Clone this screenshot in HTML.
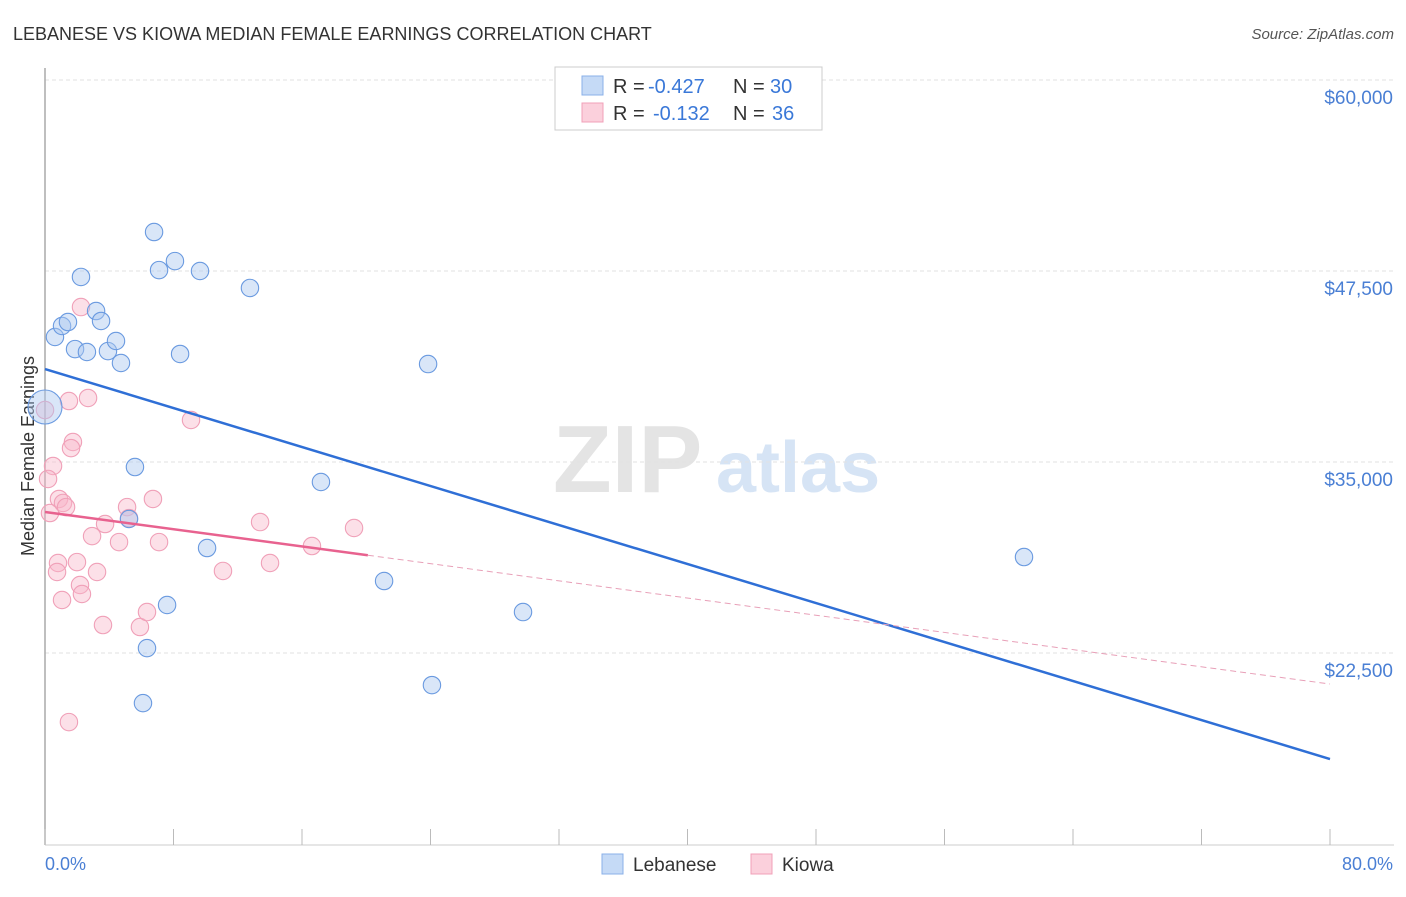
<!DOCTYPE html>
<html><head><meta charset="utf-8"><style>
body{margin:0;background:#fff;font-family:"Liberation Sans",sans-serif}
svg text{font-family:"Liberation Sans",sans-serif}
</style></head><body>
<svg id="c" width="1406" height="892" xmlns="http://www.w3.org/2000/svg">
<text x="13" y="40" font-size="18" fill="#333">LEBANESE VS KIOWA MEDIAN FEMALE EARNINGS CORRELATION CHART</text>
<text x="1394" y="39" font-size="15" fill="#555" font-style="italic" text-anchor="end">Source: ZipAtlas.com</text>
<g>
<text x="553" y="492" font-size="96" font-family="Liberation Serif" fill="#e4e4e4" font-weight="bold">ZIP</text>
<text x="716" y="492" font-size="72" fill="#d6e4f5" font-weight="bold">atlas</text>
</g>
<g id="grid"></g>
<line x1="45" y1="68" x2="45" y2="845" stroke="#aaa" stroke-width="1.5"/>
<line x1="45" y1="845" x2="1394" y2="845" stroke="#ccc"/>
<g id="xt"></g>
<text x="34" y="456" font-size="18" fill="#333" text-anchor="middle" transform="rotate(-90 34 456)">Median Female Earnings</text>
<text x="45" y="870" font-size="18" fill="#4a7fd4">0.0%</text>
<text x="1393" y="870" font-size="18" fill="#4a7fd4" text-anchor="end">80.0%</text>
<g id="pts"></g>
<g id="lines"></g>
<g>
<rect x="555" y="67" width="267" height="63" fill="#fff" stroke="#ccc"/>
<rect x="582" y="76" width="21" height="19" fill="#c5daf6" stroke="#8ab0e8"/>
<rect x="582" y="103" width="21" height="19" fill="#fbd0dc" stroke="#f0a0b8"/>
<g font-size="20">
<text x="613" y="93" fill="#333">R =</text><text x="648" y="93" fill="#3a78d8">-0.427</text>
<text x="733" y="93" fill="#333">N =</text><text x="770" y="93" fill="#3a78d8">30</text></g>
<g font-size="20">
<text x="613" y="120" fill="#333">R =</text><text x="653" y="120" fill="#3a78d8">-0.132</text>
<text x="733" y="120" fill="#333">N =</text><text x="772" y="120" fill="#3a78d8">36</text></g>
</g>
<g>
<rect x="602" y="854" width="21" height="20" fill="#c5daf6" stroke="#8ab0e8"/>
<text x="633" y="871" font-size="19" fill="#333">Lebanese</text>
<rect x="751" y="854" width="21" height="20" fill="#fbd0dc" stroke="#f0a0b8"/>
<text x="782" y="871" font-size="19" fill="#333">Kiowa</text>
</g>
</svg>
<script>
const yTicks=[60000,47500,35000,22500];
const yTickLabels=["$60,000","$47,500","$35,000","$22,500"];
const xTickVals=[0,8,16,24,32,40,48,56,64,72,80];
const lebX=[0.62,1.06,1.43,2.24,1.87,2.61,3.18,3.49,3.92,4.42,4.73,5.60,5.23,6.79,7.10,8.09,9.65,8.41,12.76,10.09,7.60,6.35,6.10,17.18,21.11,23.85,29.76,24.09,60.95,0.0];
const lebY=[43180,43900,44160,47110,42390,42200,44880,44230,42260,42920,41480,34670,31270,50050,47560,48150,47500,42070,46390,29370,25640,22820,19220,33690,27210,41410,25180,20400,28780,38600];
const kioX=[0,1.49,2.68,2.24,1.74,1.62,0.50,0.19,0.31,0.87,1.12,1.31,5.11,6.72,3.74,2.93,4.61,7.10,13.39,19.24,16.62,0.81,0.75,1.99,3.24,2.18,2.30,1.06,14.01,11.08,3.61,5.91,6.35,1.49,9.09,5.23];
const kioY=[38400,38990,39190,45140,36310,35910,34740,33890,31660,32580,32320,32050,32050,32580,30940,30150,29760,29760,31070,30680,29500,28390,27800,28450,27800,26950,26360,25970,28390,27870,24330,24200,25180,17980,37750,31330];
const lebTrend=[41085,15560];
const kioTrend=[31725,20470];
const kioSolidEnd=20.1;
const X=v=>45+v/80*1285;
const Y=v=>80+(60000-v)*0.015280;
const NS="http://www.w3.org/2000/svg";
function mk(t,a,p){const e=document.createElementNS(NS,t);for(const k in a)e.setAttribute(k,a[k]);p.appendChild(e);return e;}
const grid=document.getElementById('grid');
yTicks.forEach((v,i)=>{
 const l=mk('line',{x1:45,x2:1393,y1:Y(v),y2:Y(v),stroke:'#e2e2e2','stroke-dasharray':'4,3'},grid);
 
 
 const t=mk('text',{x:1393,y:Y(v)+24,'font-size':19,fill:'#4a7fd4','text-anchor':'end'},grid);
 t.textContent=yTickLabels[i];
 
 
});
const xt=document.getElementById('xt');
xTickVals.forEach(v=>{
 const l=mk('line',{x1:X(v),x2:X(v),y1:829,y2:845,stroke:'#bbb'},xt);
 
 
});
const pts=document.getElementById('pts');
kioX.forEach((v,i)=>{
 const c=mk('circle',{cx:X(v),cy:Y(kioY[i]),r:8.7,fill:'rgba(248,180,200,0.42)',stroke:'#f0a0b8','stroke-width':1.1},pts);
 
 
});
lebX.forEach((v,i)=>{
 const big=i===lebX.length-1;
 const c=mk('circle',{cx:X(v),cy:Y(lebY[i]),r:big?17:8.7,fill:'rgba(170,200,240,0.45)',stroke:'#6a9ae0','stroke-width':1.1},pts);
 
 
});
const ln=document.getElementById('lines');
const b=mk('line',{x1:X(0),y1:Y(lebTrend[0]),x2:X(80),y2:Y(lebTrend[1]),stroke:'#2f6fd6','stroke-width':2.5},ln);


const kAt=x=>kioTrend[0]+(kioTrend[1]-kioTrend[0])*x/80;
const p1=mk('line',{x1:X(0),y1:Y(kAt(0)),x2:X(kioSolidEnd),y2:Y(kAt(kioSolidEnd)),stroke:'#e8628f','stroke-width':2.5},ln);


const p2=mk('line',{x1:X(kioSolidEnd),y1:Y(kAt(kioSolidEnd)),x2:X(80),y2:Y(kAt(80)),stroke:'#e8a0b8','stroke-width':1,'stroke-dasharray':'6,4'},ln);


</script>
</body></html>
